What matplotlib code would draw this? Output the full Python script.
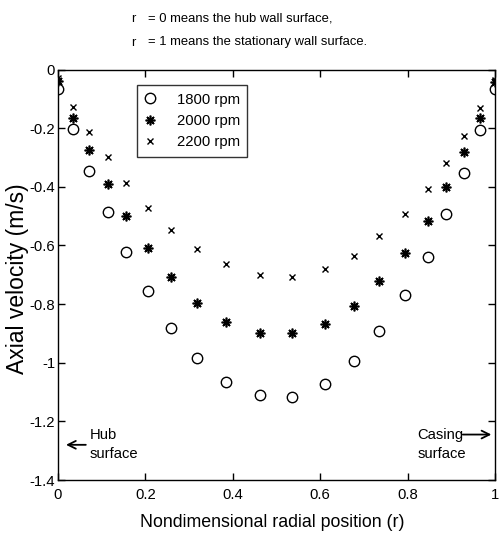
import matplotlib
matplotlib.use("Agg")
import matplotlib.pyplot as plt

# ---- data ----
r_pos = [0.0, 0.035, 0.072, 0.114, 0.156, 0.206, 0.258, 0.319, 0.385, 0.462,
         0.535, 0.612, 0.677, 0.734, 0.795, 0.846, 0.888, 0.930, 0.965, 1.0]
v_1800 = [-0.065, -0.204, -0.346, -0.485, -0.622, -0.755, -0.880, -0.985, -1.065, -1.110,
          -1.116, -1.072, -0.995, -0.893, -0.768, -0.638, -0.492, -0.352, -0.208, -0.066]
v_2000 = [-0.040, -0.165, -0.275, -0.390, -0.500, -0.608, -0.708, -0.795, -0.860, -0.897,
          -0.900, -0.867, -0.806, -0.720, -0.625, -0.515, -0.402, -0.283, -0.166, -0.044]
v_2200 = [-0.030, -0.127, -0.214, -0.298, -0.386, -0.471, -0.547, -0.613, -0.665, -0.701,
          -0.706, -0.680, -0.635, -0.568, -0.492, -0.407, -0.318, -0.226, -0.133, -0.035]
series_labels = ["1800 rpm", "2000 rpm", "2200 rpm"]
x_ticks = [0, 0.2, 0.4, 0.6, 0.8, 1]
x_ticklabels = ["0", "0.2", "0.4", "0.6", "0.8", "1"]
y_ticks = [0, -0.2, -0.4, -0.6, -0.8, -1, -1.2, -1.4]
y_ticklabels = ["0", "-0.2", "-0.4", "-0.6", "-0.8", "-1", "-1.2", "-1.4"]

plt.rcParams["font.family"] = ["Liberation Sans", "DejaVu Sans"]

W, H = 502, 542
fig = plt.figure(figsize=(W / 100, H / 100), dpi=100)
L, R, T, B = 58, 495, 69.5, 480
ax = fig.add_axes([L / W, 1 - B / H, (R - L) / W, (B - T) / H])

ax.plot(r_pos, v_1800, linestyle="none", marker="o", ms=7.5, mfc="none",
        mec="black", mew=1.0, label=series_labels[0])
ax.plot(r_pos, v_2000, linestyle="none", marker=(8, 2, 0), ms=7, mec="black",
        mew=1.2, label=series_labels[1])
ax.plot(r_pos, v_2200, linestyle="none", marker="x", ms=4, mec="black",
        mew=1.0, label=series_labels[2])

ax.set_xlim(0, 1)
ax.set_ylim(-1.4, 0)
ax.set_xticks(x_ticks)
ax.set_xticklabels(x_ticklabels)
ax.set_yticks(y_ticks)
ax.set_yticklabels(y_ticklabels)
ax.tick_params(direction="in", length=5, width=1, top=True, right=True,
               labelsize=10.7, colors="black")
ax.tick_params(axis="x", pad=6)
ax.tick_params(axis="y", pad=2)
for s in ax.spines.values():
    s.set_linewidth(1.0)

ax.set_xlabel("Nondimensional radial position (r)", fontsize=12.8)
ax.xaxis.set_label_coords(0.49, -0.083)
ax.set_ylabel("Axial velocity (m/s)", fontsize=16.5)
ax.yaxis.set_label_coords(-0.066, 0.49)

leg = ax.legend(loc="upper left", bbox_to_anchor=(0.18, 0.962), borderaxespad=0,
                fontsize=10.7, frameon=True, fancybox=False, edgecolor="black",
                handlelength=0.75, handletextpad=1.45, borderpad=0.5,
                labelspacing=0.5)
leg.get_frame().set_linewidth(1.0)

# annotations
ax.annotate("", xy=(0.012, -1.28), xytext=(0.07, -1.28),
            arrowprops=dict(arrowstyle="->", lw=1.3, color="black", mutation_scale=14))
ax.text(0.073, -1.245, "Hub", fontsize=10.6, va="center", ha="left")
ax.text(0.073, -1.313, "surface", fontsize=10.6, va="center", ha="left")
ax.annotate("", xy=(0.998, -1.245), xytext=(0.92, -1.245),
            arrowprops=dict(arrowstyle="->", lw=1.3, color="black", mutation_scale=14))
ax.text(0.823, -1.245, "Casing", fontsize=10.6, va="center", ha="left")
ax.text(0.823, -1.313, "surface", fontsize=10.6, va="center", ha="left")

# header notes
fig.text(131 / W, 1 - 18.5 / H, "r", fontsize=9.4, va="center", ha="left")
fig.text(148 / W, 1 - 18.5 / H, "= 0 means the hub wall surface,", fontsize=9.4,
         va="center", ha="left")
fig.text(131 / W, 1 - 42.5 / H, "r", fontsize=9.4, va="center", ha="left")
fig.text(148 / W, 1 - 42.5 / H, "= 1 means the stationary wall surface.", fontsize=9.4,
         va="center", ha="left")

fig.savefig("out.png", dpi=100)
